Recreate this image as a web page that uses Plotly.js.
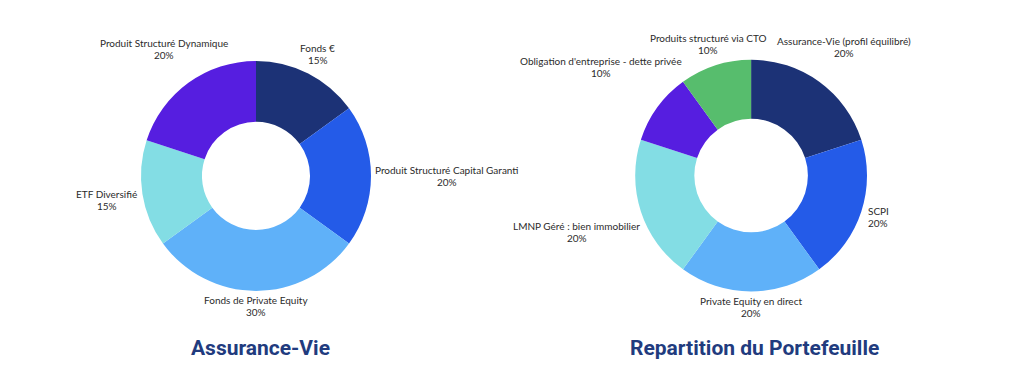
<!DOCTYPE html>
<html><head><meta charset="utf-8">
<script src="https://cdn.plot.ly/plotly-3.0.1.min.js"></script>
<style>html,body{margin:0;padding:0;background:#fff;}#chart{width:1024px;height:390px;}</style>
</head><body><div id="chart"></div>
<script>
const leftLabels = ["Fonds €", "Produit Structuré Capital Garanti", "Fonds de Private Equity", "ETF Diversifié", "Produit Structuré Dynamique"];
const leftValues = [15, 20, 30, 15, 20];
const leftColors = ["#1c3276", "#245be8", "#5fb1f9", "#83dde4", "#561ee0"];
const rightLabels = ["Assurance-Vie (profil équilibré)", "SCPI", "Private Equity en direct", "LMNP Géré : bien immobilier", "Obligation d'entreprise - dette privée", "Produits structuré via CTO"];
const rightValues = [20, 20, 20, 20, 10, 10];
const rightColors = ["#1c3276", "#245be8", "#5fb1f9", "#83dde4", "#561ee0", "#57bd6d"];
const titles = ["Assurance-Vie", "Repartition du Portefeuille"];

const W = 1024, H = 390;
const LABEL_FONT = {family: "Lato", size: 10, color: "#2b2b2b"};
const LINE_GAP = 6;   // half distance between the two label lines (px)
const PAD = 4;        // gap between ring and label box (px)

const pies = [
  {labels: leftLabels, values: leftValues, colors: leftColors, hole: 0.47, domain: {x: [0.1377, 0.3623], y: [0.254, 0.844]}},
  {labels: rightLabels, values: rightValues, colors: rightColors, hole: 0.49, domain: {x: [0.620, 0.847], y: [0.2526, 0.847]}}
];

const ctx = document.createElement("canvas").getContext("2d");
ctx.font = LABEL_FONT.size + "px " + LABEL_FONT.family;

const data = pies.map(p => ({
  type: "pie", sort: false, direction: "clockwise", rotation: 0,
  labels: p.labels, values: p.values, hole: p.hole, domain: p.domain,
  marker: {colors: p.colors, line: {width: 0}},
  textinfo: "none", showlegend: false, hoverinfo: "none"
}));

const annotations = [];
pies.forEach(p => {
  const cx = (p.domain.x[0] + p.domain.x[1]) / 2 * W;
  const cy = H - (p.domain.y[0] + p.domain.y[1]) / 2 * H;
  const R = Math.min((p.domain.x[1] - p.domain.x[0]) * W, (p.domain.y[1] - p.domain.y[0]) * H) / 2;
  const total = p.values.reduce((a, b) => a + b, 0);
  let cum = 0;
  p.values.forEach((v, i) => {
    const mid = (cum + v / 2) / total * 2 * Math.PI;
    cum += v;
    const ux = Math.sin(mid), uy = -Math.cos(mid);
    const pct = Math.round(v / total * 100) + "%";
    const hw = Math.max(ctx.measureText(p.labels[i]).width, ctx.measureText(pct).width) / 2;
    const hh = LINE_GAP + 5;
    let d = 0;
    for (; d < 400; d += 0.5) {
      const bx = d * ux, by = d * uy;
      const qx = Math.max(bx - hw, Math.min(0, bx + hw));
      const qy = Math.max(by - hh, Math.min(0, by + hh));
      if (Math.hypot(qx, qy) >= R + PAD) break;
    }
    const px = (cx + d * ux) / W, py = (H - (cy + d * uy)) / H;
    annotations.push({text: p.labels[i], x: px, y: py, yshift: LINE_GAP, xref: "paper", yref: "paper", showarrow: false,
      xanchor: "center", yanchor: "middle", font: LABEL_FONT});
    annotations.push({text: pct, x: px, y: py, yshift: -LINE_GAP, xref: "paper", yref: "paper", showarrow: false,
      xanchor: "center", yanchor: "middle", font: LABEL_FONT});
  });
});

const titleX = [0.254, 0.737];
titles.forEach((t, i) => annotations.push({text: "<b>" + t + "</b>", x: titleX[i], y: 0.108, xref: "paper", yref: "paper",
  showarrow: false, xanchor: "center", yanchor: "middle", font: {family: "Roboto", size: 21, color: "#213b7e"}}));

const layout = {
  width: W, height: H, margin: {l: 0, r: 0, t: 0, b: 0},
  paper_bgcolor: "#ffffff", plot_bgcolor: "#ffffff",
  annotations: annotations
};
Plotly.newPlot("chart", data, layout, {staticPlot: true});
</script></body></html>
